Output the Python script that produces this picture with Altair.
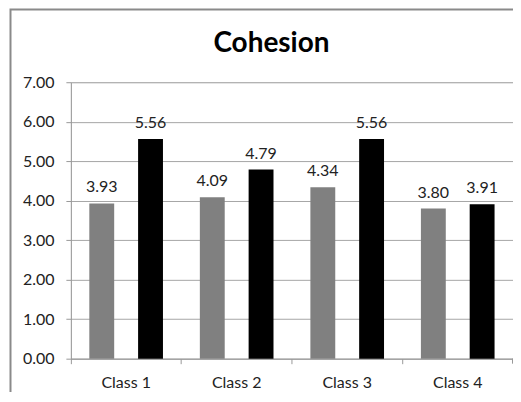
import altair as alt
import pandas as pd

classes = ["Class 1", "Class 2", "Class 3", "Class 4"]
series_a = [3.93, 4.09, 4.34, 3.80]
series_b = [5.56, 4.79, 5.56, 3.91]
series_names = ["A", "B"]
colors = ["#808080", "#000000"]
y_ticks = [0, 1, 2, 3, 4, 5, 6, 7]
title_text = "Cohesion"

rows = []
for i, c in enumerate(classes):
    rows.append({"cls": c, "series": series_names[0], "value": series_a[i]})
    rows.append({"cls": c, "series": series_names[1], "value": series_b[i]})
df = pd.DataFrame(rows)

W, H = 443, 277
FONT = "Lato"

x_enc = alt.X("cls:N", sort=classes,
              scale=alt.Scale(paddingInner=0, paddingOuter=0),
              axis=alt.Axis(title=None, labelAngle=0, bandPosition=0,
                            labelFontSize=16, labelColor="#222", labelFont=FONT,
                            labelPadding=11, tickSize=5, tickColor="#999",
                            domainColor="#999", grid=False))
xo_enc = alt.XOffset("series:N", sort=series_names,
                     scale=alt.Scale(paddingInner=0.49, paddingOuter=0.378))
y_enc = alt.Y("value:Q",
              scale=alt.Scale(domain=[0, 7], nice=False),
              axis=alt.Axis(title=None, values=y_ticks, format=".2f",
                            labelFontSize=16, labelColor="#222", labelFont=FONT,
                            labelPadding=12, tickSize=5, tickColor="#999",
                            domainColor="#999", gridColor="#a6a6a6", gridWidth=1))
color_enc = alt.Color("series:N", sort=series_names,
                      scale=alt.Scale(domain=series_names, range=colors), legend=None)

base = alt.Chart(df)
bars = base.mark_bar(cornerRadius=0).encode(x=x_enc, xOffset=xo_enc, y=y_enc, color=color_enc)
labels = base.mark_text(dy=-11, baseline="alphabetic", fontSize=16, font=FONT, color="#222").encode(
    x=x_enc, xOffset=xo_enc, y=y_enc, text=alt.Text("value:Q", format=".2f"))

one = pd.DataFrame({"t": [title_text]})
frame = alt.Chart(one).mark_rect(fill=None, stroke="#8a8a8a", strokeWidth=2).encode(
    x=alt.value(-60.5), x2=alt.value(W + 100), y=alt.value(-73), y2=alt.value(H + 100))
last_tick = alt.Chart(one).mark_rule(color="#999").encode(
    x=alt.value(W - 0.5), y=alt.value(H), y2=alt.value(H + 5))
title = alt.Chart(one).mark_text(fontSize=28, font=FONT, fontWeight="bold", color="#000",
                                 baseline="alphabetic", align="center").encode(
    x=alt.value(201), y=alt.value(-30), text="t:N")

chart = alt.layer(frame, bars, labels, last_tick, title).properties(
    width=W, height=H,
    autosize=alt.AutoSizeParams(type="none"),
    padding={"left": 63, "top": 74, "right": 0, "bottom": 33},
).configure_view(stroke=None).configure(background="white")

chart.save("out.html", embed_options={"renderer": "svg", "actions": False})
